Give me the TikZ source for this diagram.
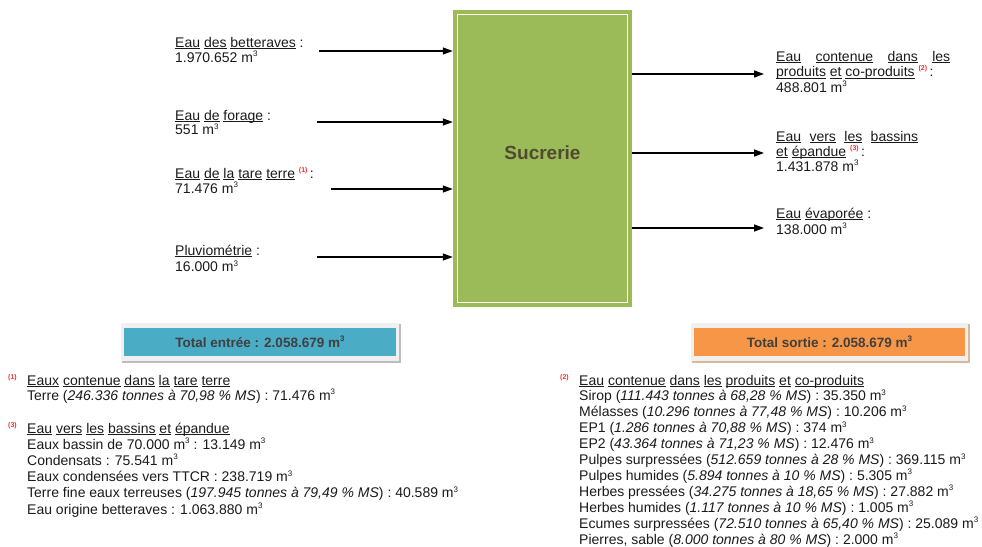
\documentclass[tikz,border=0pt]{standalone}
\usepackage{fontspec}
\setmainfont{Liberation Sans}
\usetikzlibrary{arrows.meta,backgrounds}
\definecolor{boxgreen}{HTML}{9BBB59}
\definecolor{tblue}{HTML}{4BACC6}
\definecolor{torange}{HTML}{F79646}
\definecolor{notered}{HTML}{F03030}
\definecolor{sucr}{RGB}{80,74,48}
\definecolor{totaltext}{HTML}{404040}
\definecolor{framegray}{HTML}{F0F0F0}
\definecolor{shadowgray}{HTML}{BDBDBD}
\definecolor{shadoworange}{HTML}{D8B89A}
\definecolor{txt}{HTML}{1A1A1A}
\newcommand\ul[1]{\underline{\raisebox{0pt}[\height][0pt]{#1}}}
\newcommand\mcube{m\raisebox{5.5pt}{\fontsize{8}{8}\selectfont 3}}
\newcommand\nref[1]{\raisebox{6pt}{\fontsize{7}{7}\selectfont\bfseries\textcolor{notered}{(#1)}}}
\newcommand\lns[1]{\vtop{\lineskiplimit=-100pt #1}}
\tikzset{
  lbl/.style={anchor=base west, inner sep=0pt, font=\fontsize{14}{15}\selectfont, text=txt},
  note/.style={anchor=base west, inner sep=0pt, font=\fontsize{14}{16.2}\selectfont, text=txt},
  flow/.style={line width=1.3pt, -{Triangle[length=10pt,width=7pt]}},
  procbox/.style={fill=boxgreen, minimum width=179pt, minimum height=297pt, inner sep=0pt},
  total/.style={minimum width=272pt, minimum height=28pt, inner sep=0pt,
    font=\fontsize{13.5}{14}\selectfont\bfseries, text=totaltext},
  refmark/.style={anchor=base west, inner sep=0pt},
}
\begin{document}
\begin{tikzpicture}[x=1pt,y=-1pt]
\useasboundingbox (0,0) rectangle (982,546);

% process box
\node[procbox] (box) at (542.5,158.5) {};
\draw[white, line width=0.9pt] ([shift={(5pt,-5pt)}]box.north west) rectangle ([shift={(-5pt,5pt)}]box.south east);
\node[inner sep=0pt, font=\fontsize{19}{20}\selectfont\bfseries, text=sucr] (sucrerie) at (542.5,153) {Sucrerie};

% input labels
\node[lbl] (in1) at (175,47) {\lns{\hbox{\ul{Eau} \ul{des} \ul{betteraves} :}\hbox{1.970.652 \mcube}}};
\node[lbl, font=\fontsize{14}{14.5}\selectfont] (in2) at (175,120) {\lns{\hbox{\ul{Eau} \ul{de} \ul{forage} :}\hbox{551 \mcube}}};
\node[lbl] (in3) at (175,178) {\lns{\hbox{\ul{Eau} \ul{de} \ul{la} \ul{tare} \ul{terre} \nref{1}\,:}\hbox{71.476 \mcube}}};
\node[lbl, font=\fontsize{14}{16.5}\selectfont] (in4) at (175,255) {\lns{\hbox{\ul{Pluviométrie} :}\hbox{16.000 \mcube}}};

% input arrows
\coordinate (a1) at (319,51);
\coordinate (a2) at (317,122);
\coordinate (a3) at (331,189);
\coordinate (a4) at (317,257);
\foreach \c in {a1,a2,a3,a4} \draw[flow] (\c) -- (\c -| box.west);

% output arrows
\coordinate (b1) at (764,74);
\coordinate (b2) at (764,153);
\coordinate (b3) at (764,228);
\foreach \c in {b1,b2,b3} \draw[flow] (\c -| box.east) -- (\c);

% output labels
\node[lbl, font=\fontsize{14}{15.5}\selectfont] (out1) at (776,61) {\lns{\hbox to 174pt{\ul{Eau}\hfill\ul{contenue}\hfill\ul{dans}\hfill\ul{les}}\hbox{\ul{produits} \ul{et} \ul{co-produits} \nref{2}\,:}\hbox{488.801 \mcube}}};
\node[lbl] (out2) at (776,141) {\lns{\hbox to 142pt{\ul{Eau}\hfill\ul{vers}\hfill\ul{les}\hfill\ul{bassins}}\hbox{\ul{et} \ul{épandue} \nref{3}\,:}\hbox{1.431.878 \mcube}}};
\node[lbl, font=\fontsize{14}{16}\selectfont] (out3) at (776,218) {\lns{\hbox{\ul{Eau} \ul{évaporée} :}\hbox{138.000 \mcube}}};

% totals
\node[total, fill=tblue] (tin) at (260,342) {Total entrée : 2.058.679 \mcube};
\node[total, fill=torange, minimum width=271pt] (tout) at (829.5,342) {Total sortie : 2.058.679 \mcube};
\begin{scope}[on background layer]
  \fill[shadowgray] ([xshift=-2pt,yshift=4pt]tin.north west) rectangle ([xshift=5pt,yshift=-7pt]tin.south east);
  \fill[framegray] ([xshift=-3pt,yshift=5pt]tin.north west) rectangle ([xshift=3pt,yshift=-5pt]tin.south east);
  \fill[shadoworange] ([xshift=-2pt,yshift=4pt]tout.north west) rectangle ([xshift=5pt,yshift=-7pt]tout.south east);
  \fill[framegray] ([xshift=-3pt,yshift=5pt]tout.north west) rectangle ([xshift=3pt,yshift=-5pt]tout.south east);
\end{scope}

% notes left
\node[refmark] (r1) at (8,385) {\nref{1}};
\node[note, font=\fontsize{14}{15}\selectfont] (note1) at (27,385) {\lns{\hbox{\ul{Eaux} \ul{contenue} \ul{dans} \ul{la} \ul{tare} \ul{terre}}\hbox{Terre (\textit{246.336 tonnes à 70,98 \% MS}) : 71.476 \mcube}}};
\node[refmark] (r3) at (8,433) {\nref{3}};
\node[note] (note3) at (27,433) {\lns{%
\hbox{\ul{Eau} \ul{vers} \ul{les} \ul{bassins} \ul{et} \ul{épandue}}%
\hbox{Eaux bassin de 70.000 \mcube\ : 13.149 \mcube}%
\hbox{Condensats : 75.541 \mcube}%
\hbox{Eaux condensées vers TTCR : 238.719 \mcube}%
\hbox{Terre fine eaux terreuses (\textit{197.945 tonnes à 79,49 \% MS}) : 40.589 \mcube}%
\hbox{Eau origine betteraves : 1.063.880 \mcube}}};

% notes right
\node[refmark] (r2) at (560,385) {\nref{2}};
\node[note, font=\fontsize{14}{15.9}\selectfont] (note2) at (579,385) {\lns{%
\hbox{\ul{Eau} \ul{contenue} \ul{dans} \ul{les} \ul{produits} \ul{et} \ul{co-produits}}%
\hbox{Sirop (\textit{111.443 tonnes à 68,28 \% MS}) : 35.350 \mcube}%
\hbox{Mélasses (\textit{10.296 tonnes à 77,48 \% MS}) : 10.206 \mcube}%
\hbox{EP1 (\textit{1.286 tonnes à 70,88 \% MS}) : 374 \mcube}%
\hbox{EP2 (\textit{43.364 tonnes à 71,23 \% MS}) : 12.476 \mcube}%
\hbox{Pulpes surpressées (\textit{512.659 tonnes à 28 \% MS}) : 369.115 \mcube}%
\hbox{Pulpes humides (\textit{5.894 tonnes à 10 \% MS}) : 5.305 \mcube}%
\hbox{Herbes pressées (\textit{34.275 tonnes à 18,65 \% MS}) : 27.882 \mcube}%
\hbox{Herbes humides (\textit{1.117 tonnes à 10 \% MS}) : 1.005 \mcube}%
\hbox{Ecumes surpressées (\textit{72.510 tonnes à 65,40 \% MS}) : 25.089 \mcube}%
\hbox{Pierres, sable (\textit{8.000 tonnes à 80 \% MS}) : 2.000 \mcube}}};
\end{tikzpicture}
\end{document}
